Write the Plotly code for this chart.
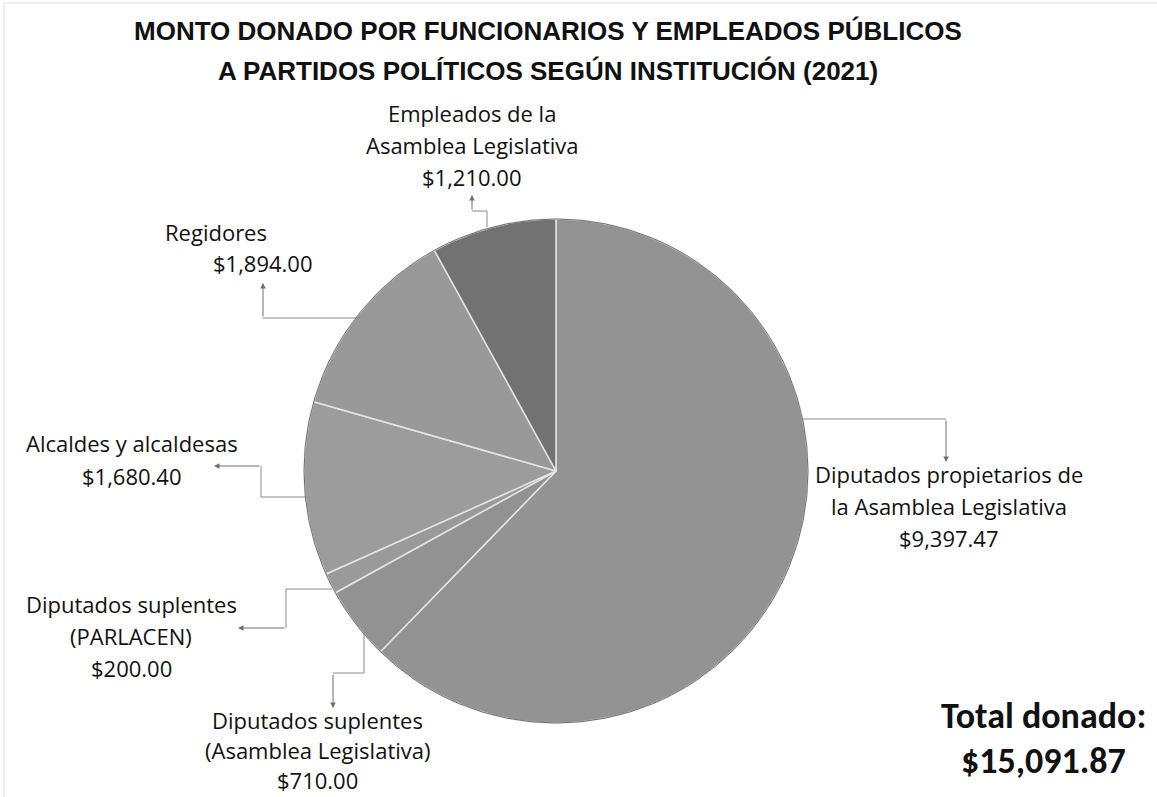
import plotly.graph_objects as go

# Donations by institution (USD), clockwise from 12 o'clock
categories = [
    "Diputados propietarios de la Asamblea Legislativa",
    "Diputados suplentes (Asamblea Legislativa)",
    "Diputados suplentes (PARLACEN)",
    "Alcaldes y alcaldesas",
    "Regidores",
    "Empleados de la Asamblea Legislativa",
]
amounts = [9397.47, 710.00, 200.00, 1680.40, 1894.00, 1210.00]
slice_colors = ["#939393", "#929292", "#9a9a9a", "#9c9c9c", "#999999", "#727272"]

W, H = 1157, 797
CX, CY, R = 556, 471, 252  # pie centre and radius in pixels


def px(x):
    return x / W


def py(y):
    return 1 - y / H


def money(v):
    return "${:,.2f}".format(v)


total = sum(amounts)

fig = go.Figure()
fig.add_trace(go.Pie(
    labels=categories,
    values=amounts,
    sort=False,
    direction="clockwise",
    rotation=0,
    textinfo="none",
    hoverinfo="label+value",
    marker=dict(colors=slice_colors, line=dict(color="#e4e4e4", width=1.5)),
    domain=dict(x=[px(CX - R), px(CX + R)], y=[py(CY + R), py(CY - R)]),
    showlegend=False,
))

LABEL_FONT = dict(family="Open Sans, Noto Sans, Arial", size=22, color="#111111")
LINE_COLOR = "#8a8a8a"

annotations = []
shapes = []


def text_lines(lines, x, y0, step=32, anchor="center"):
    for i, t in enumerate(lines):
        annotations.append(dict(
            x=px(x), y=py(y0 + i * step), xref="paper", yref="paper",
            text=t, showarrow=False, font=LABEL_FONT,
            xanchor=anchor, yanchor="middle",
        ))


def leader(points):
    # polyline ending with an arrowhead at the last point
    pts = points[:-1]
    if len(pts) >= 2:
        d = "M " + " L ".join(f"{px(a)},{py(b)}" for a, b in pts)
        shapes.append(dict(type="path", path=d, xref="paper", yref="paper",
                           line=dict(color=LINE_COLOR, width=1)))
    (x1, y1), (x2, y2) = points[-2], points[-1]
    annotations.append(dict(
        x=px(x2), y=py(y2), xref="paper", yref="paper",
        ax=x1 - x2, ay=y1 - y2, axref="pixel", ayref="pixel",
        text="", showarrow=True, arrowhead=2, arrowsize=1.1,
        arrowwidth=1, arrowcolor="#6e6e6e",
    ))


# Labels and connectors
text_lines(["Diputados propietarios de", "la Asamblea Legislativa", money(amounts[0])], 949, 474)
leader([(803, 419), (946, 419), (946, 462)])

text_lines(["Diputados suplentes", "(Asamblea Legislativa)", money(amounts[1])], 317, 720, step=30)
leader([(364, 632), (364, 673), (333, 673), (333, 708)])

text_lines(["Diputados suplentes", "(PARLACEN)", money(amounts[2])], 131, 604)
leader([(332, 589), (286, 589), (286, 628), (238, 628)])

text_lines(["Alcaldes y alcaldesas", money(amounts[3])], 132, 443, step=33)
leader([(307, 497), (261, 497), (261, 466), (214, 466)])

text_lines(["Regidores"], 216, 232)
text_lines([money(amounts[4])], 263, 263)
leader([(360, 318), (263, 318), (263, 283)])

text_lines(["Empleados de la", "Asamblea Legislativa", money(amounts[5])], 472, 113)
leader([(487, 227), (487, 211), (472, 211), (472, 195)])

# Title
TITLE_FONT = dict(family="Liberation Sans Narrow, Arial Narrow, Liberation Sans", size=26, color="#111111")
for t, y in [("<b>MONTO DONADO POR FUNCIONARIOS Y EMPLEADOS PÚBLICOS</b>", 31),
             ("<b>A PARTIDOS POLÍTICOS SEGÚN INSTITUCIÓN (2021)</b>", 71)]:
    annotations.append(dict(x=px(548), y=py(y), xref="paper", yref="paper", text=t,
                            showarrow=False, font=TITLE_FONT, xanchor="center", yanchor="middle"))

# Total box
TOTAL_FONT = dict(family="Carlito, Lato, Arial", size=36, color="#111111")
annotations.append(dict(x=px(1043), y=py(716), xref="paper", yref="paper",
                        text="<b>Total donado:</b>", showarrow=False, font=TOTAL_FONT,
                        xanchor="center", yanchor="middle"))
annotations.append(dict(x=px(1043), y=py(761), xref="paper", yref="paper",
                        text="<b>" + money(total) + "</b>", showarrow=False, font=TOTAL_FONT,
                        xanchor="center", yanchor="middle"))

# Outer rim of the pie and faint frame
shapes.append(dict(type="circle", xref="paper", yref="paper",
                   x0=px(CX - R), x1=px(CX + R), y0=py(CY + R), y1=py(CY - R),
                   line=dict(color="#707070", width=1)))
shapes.append(dict(type="path", xref="paper", yref="paper",
                   path=f"M {px(4)},0 L {px(4)},{py(3)} L 1,{py(3)}",
                   line=dict(color="#dcdcdc", width=1)))

fig.update_layout(
    width=W, height=H,
    margin=dict(l=0, r=0, t=0, b=0),
    paper_bgcolor="white", plot_bgcolor="white",
    annotations=annotations, shapes=shapes,
)

fig.write_html("out.html")
